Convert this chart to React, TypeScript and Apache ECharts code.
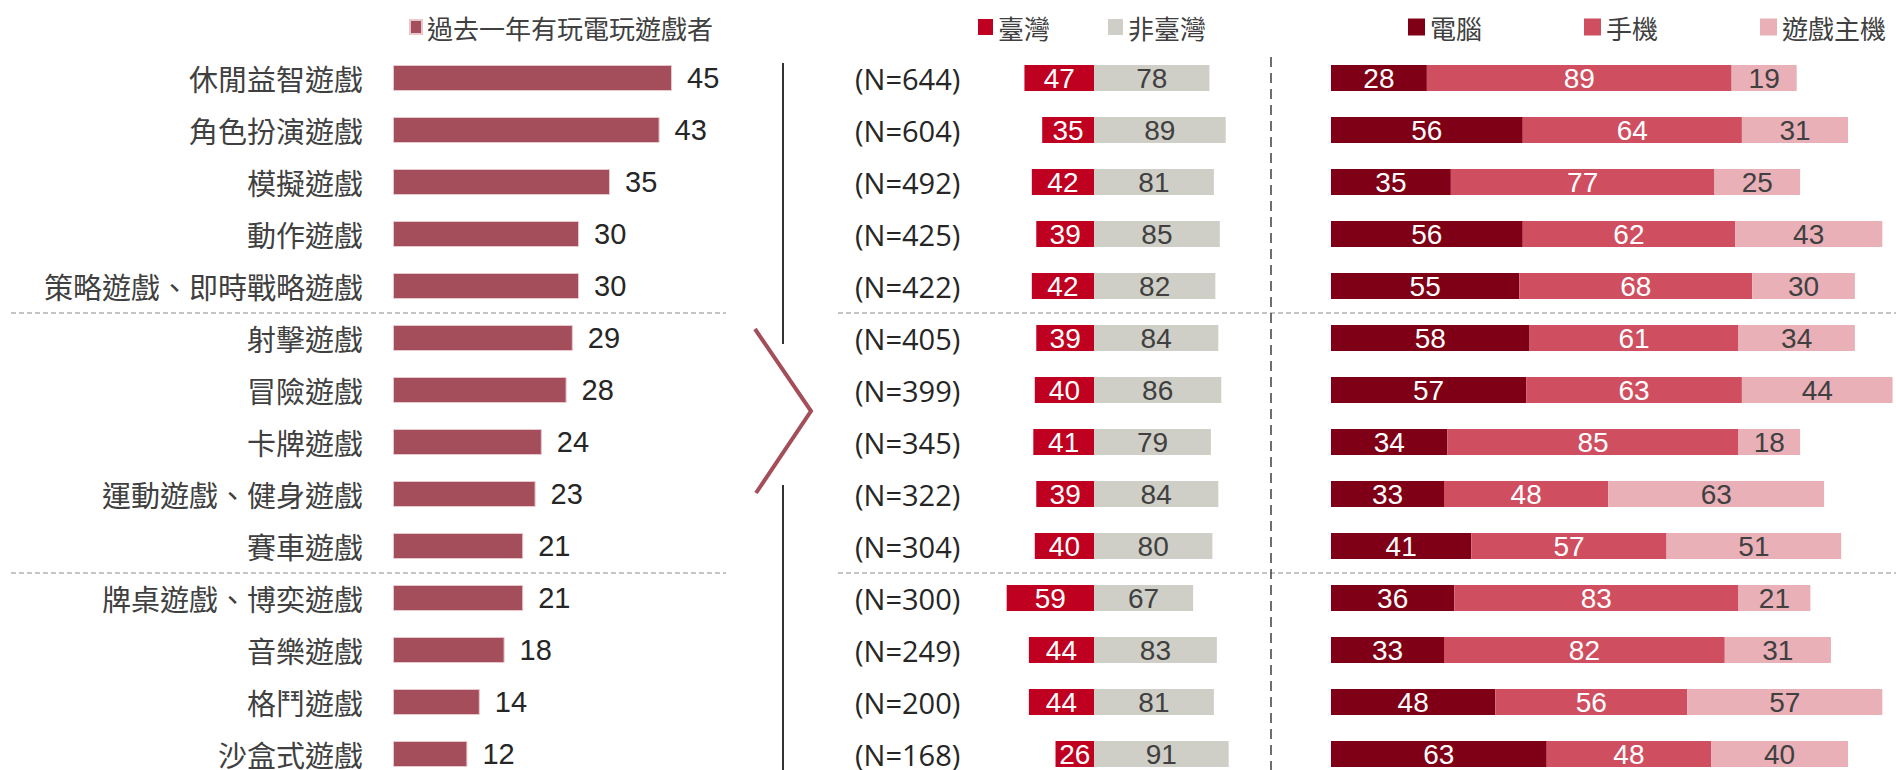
import React, { useEffect, useRef } from "react";
import * as echarts from "echarts";

const categories = [
  "休閒益智遊戲",
  "角色扮演遊戲",
  "模擬遊戲",
  "動作遊戲",
  "策略遊戲、即時戰略遊戲",
  "射擊遊戲",
  "冒險遊戲",
  "卡牌遊戲",
  "運動遊戲、健身遊戲",
  "賽車遊戲",
  "牌桌遊戲、博奕遊戲",
  "音樂遊戲",
  "格鬥遊戲",
  "沙盒式遊戲",
];
const playedPct = [45, 43, 35, 30, 30, 29, 28, 24, 23, 21, 21, 18, 14, 12];
const sampleN = [644, 604, 492, 425, 422, 405, 399, 345, 322, 304, 300, 249, 200, 168];
const taiwan = [47, 35, 42, 39, 42, 39, 40, 41, 39, 40, 59, 44, 44, 26];
const nonTaiwan = [78, 89, 81, 85, 82, 84, 86, 79, 84, 80, 67, 83, 81, 91];
const pcPct = [28, 56, 35, 56, 55, 58, 57, 34, 33, 41, 36, 33, 48, 63];
const mobilePct = [89, 64, 77, 62, 68, 61, 63, 85, 48, 57, 83, 82, 56, 48];
const consolePct = [19, 31, 25, 43, 30, 34, 44, 18, 63, 51, 21, 31, 57, 40];

const CJK = '"Noto Sans CJK TC", "Noto Sans CJK SC", sans-serif';
const NUM = '"Liberation Sans", Arial, sans-serif';

export default function App() {
  const ref = useRef<HTMLDivElement>(null);
  useEffect(() => {
    document.body.style.margin = "0";
    document.body.style.overflow = "hidden";
    document.documentElement.style.overflow = "hidden";
    const chart = echarts.init(ref.current!, null, { renderer: "svg" });
    const gridTop = 52;
    const gridH = categories.length * 52;
    const nLabels = sampleN.map((n) => `(N=${n})`);
    const hiddenX = (i: number, min: number, max: number) => ({
      type: "value",
      gridIndex: i,
      min,
      max,
      show: false,
    });
    const catY = (i: number, data: string[], show: boolean, extra: any = {}) => ({
      type: "category",
      gridIndex: i,
      inverse: true,
      data,
      axisLine: { show: false },
      axisTick: { show: false },
      splitLine: { show: false },
      axisLabel: { show, ...extra },
    });
    const inLabel = (color: string, abs = false) => ({
      show: true,
      position: "inside",
      color,
      fontSize: 28,
      fontFamily: NUM,
      formatter: (p: any) => String(abs ? Math.abs(p.value) : p.value),
    });
    const legendText = { fontSize: 26, color: "#404040", fontFamily: CJK };
    const option: any = {
      animation: false,
      textStyle: { fontFamily: CJK },
      legend: [
        {
          data: ["過去一年有玩電玩遊戲者"],
          left: 404,
          top: 9,
          icon: "rect",
          itemWidth: 12,
          itemHeight: 14,
          textStyle: legendText,
        },
        {
          data: ["臺灣", "非臺灣"],
          left: 973,
          top: 9,
          icon: "rect",
          itemWidth: 15,
          itemHeight: 16,
          itemGap: 58,
          textStyle: legendText,
        },
        {
          data: ["電腦", "手機", "遊戲主機"],
          left: 1403,
          top: 9,
          icon: "rect",
          itemWidth: 17,
          itemHeight: 17,
          itemGap: 102,
          textStyle: legendText,
        },
      ],
      grid: [
        { left: 393, top: gridTop, width: 310, height: gridH },
        { left: 946, top: gridTop, width: 296, height: gridH },
        { left: 1331, top: gridTop, width: 566, height: gridH },
      ],
      xAxis: [hiddenX(0, 0, 50), hiddenX(1, -100, 100), hiddenX(2, 0, 165)],
      yAxis: [
        catY(0, categories, true, {
          fontSize: 29,
          color: "#404040",
          margin: 30,
          fontFamily: CJK,
        }),
        catY(1, nLabels, true, {
          fontSize: 29,
          color: "#262626",
          margin: 91,
          align: "left",
          fontFamily: '"Open Sans", sans-serif',
        }),
        catY(2, categories, false),
      ],
      series: [
        {
          name: "過去一年有玩電玩遊戲者",
          type: "bar",
          xAxisIndex: 0,
          yAxisIndex: 0,
          data: playedPct,
          barWidth: 26,
          itemStyle: { color: "#A44D5B", borderColor: "#E8C6CB", borderWidth: 1 },
          label: {
            show: true,
            position: "right",
            distance: 15,
            color: "#262626",
            fontSize: 29,
            fontFamily: NUM,
          },
        },
        {
          name: "臺灣",
          type: "bar",
          stack: "tw",
          xAxisIndex: 1,
          yAxisIndex: 1,
          data: taiwan.map((v) => -v),
          barWidth: 26,
          itemStyle: { color: "#C00020" },
          label: inLabel("#ffffff", true),
        },
        {
          name: "非臺灣",
          type: "bar",
          stack: "tw",
          xAxisIndex: 1,
          yAxisIndex: 1,
          data: nonTaiwan,
          barWidth: 26,
          itemStyle: { color: "#CFCFC7" },
          label: inLabel("#404040"),
        },
        {
          name: "電腦",
          type: "bar",
          stack: "dev",
          xAxisIndex: 2,
          yAxisIndex: 2,
          data: pcPct,
          barWidth: 26,
          itemStyle: { color: "#7F0016" },
          label: inLabel("#ffffff"),
        },
        {
          name: "手機",
          type: "bar",
          stack: "dev",
          xAxisIndex: 2,
          yAxisIndex: 2,
          data: mobilePct,
          barWidth: 26,
          itemStyle: { color: "#CF4F61" },
          label: inLabel("#ffffff"),
        },
        {
          name: "遊戲主機",
          type: "bar",
          stack: "dev",
          xAxisIndex: 2,
          yAxisIndex: 2,
          data: consolePct,
          barWidth: 26,
          itemStyle: { color: "#EAB0B8" },
          label: inLabel("#404040"),
        },
      ],
      graphic: [
        { type: "line", shape: { x1: 783, y1: 63, x2: 783, y2: 344 }, style: { stroke: "#333", lineWidth: 2 } },
        { type: "line", shape: { x1: 783, y1: 485, x2: 783, y2: 770 }, style: { stroke: "#333", lineWidth: 2 } },
        {
          type: "polyline",
          shape: { points: [[755, 329], [811, 411], [756, 493]] },
          style: { stroke: "#A44D5B", lineWidth: 4, fill: null },
        },
        { type: "line", shape: { x1: 11, y1: 313, x2: 726, y2: 313 }, style: { stroke: "#C4C4C4", lineWidth: 2, lineDash: [5, 3] } },
        { type: "line", shape: { x1: 838, y1: 313, x2: 1896, y2: 313 }, style: { stroke: "#C4C4C4", lineWidth: 2, lineDash: [5, 3] } },
        { type: "line", shape: { x1: 11, y1: 573, x2: 726, y2: 573 }, style: { stroke: "#C4C4C4", lineWidth: 2, lineDash: [5, 3] } },
        { type: "line", shape: { x1: 838, y1: 573, x2: 1896, y2: 573 }, style: { stroke: "#C4C4C4", lineWidth: 2, lineDash: [5, 3] } },
        { type: "line", shape: { x1: 1271, y1: 57, x2: 1271, y2: 770 }, style: { stroke: "#404040", lineWidth: 1.5, lineDash: [10, 6] } },
      ],
    };
    chart.setOption(option);
    return () => chart.dispose();
  }, []);
  return <div ref={ref} style={{ width: 1896, height: 800 }} />;
}
